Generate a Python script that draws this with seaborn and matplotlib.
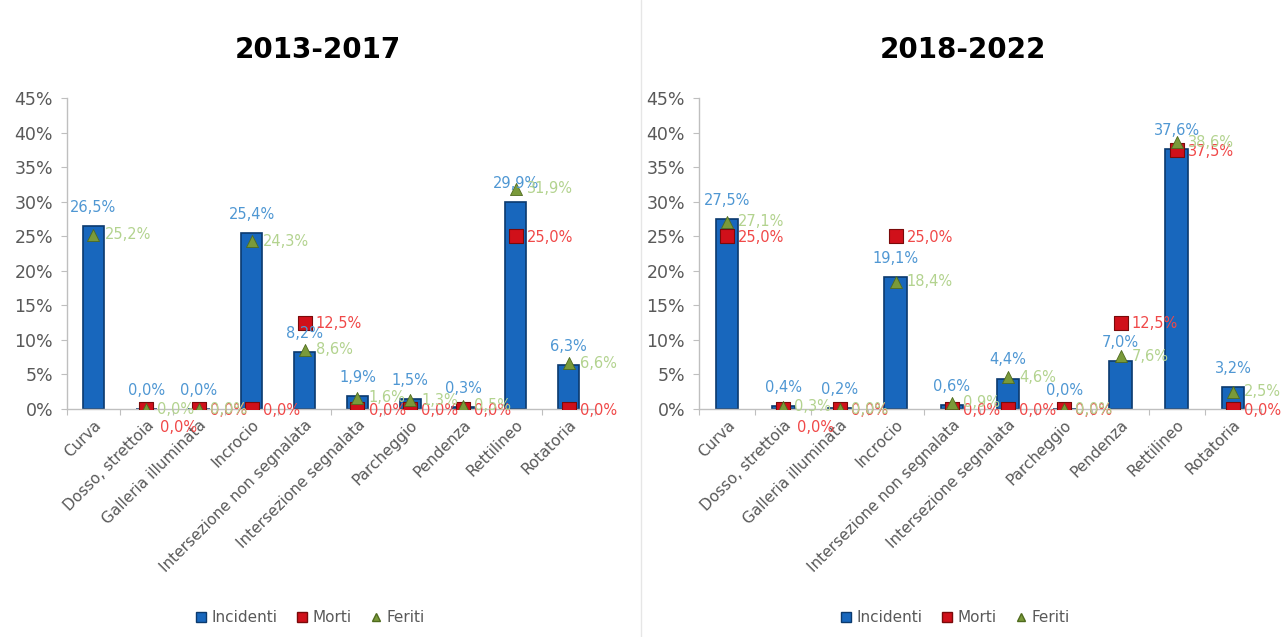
import matplotlib
matplotlib.use("Agg")
import matplotlib.pyplot as plt
from matplotlib.lines import Line2D
from matplotlib.ticker import FixedLocator, PercentFormatter
import numpy as np
import pandas as pd
import seaborn as sns

# Road configuration categories
categories = ["Curva", "Dosso, strettoia", "Galleria illuminata", "Incrocio",
              "Intersezione non segnalata", "Intersezione segnalata",
              "Parcheggio", "Pendenza", "Rettilineo", "Rotatoria"]

periods = ["2013-2017", "2018-2022"]

# Shares (%) per period
incidenti_2013 = [26.5, 0.0, 0.0, 25.4, 8.2, 1.9, 1.5, 0.3, 29.9, 6.3]
morti_2013 = [62.5, 0.0, 0.0, 0.0, 12.5, 0.0, 0.0, 0.0, 25.0, 0.0]
feriti_2013 = [25.2, 0.0, 0.0, 24.3, 8.6, 1.6, 1.3, 0.5, 31.9, 6.6]

incidenti_2018 = [27.5, 0.4, 0.2, 19.1, 0.6, 4.4, 0.0, 7.0, 37.6, 3.2]
morti_2018 = [25.0, 0.0, 0.0, 25.0, 0.0, 0.0, 0.0, 12.5, 37.5, 0.0]
feriti_2018 = [27.1, 0.3, 0.0, 18.4, 0.9, 4.6, 0.0, 7.6, 38.6, 2.5]

series_names = ["Incidenti", "Morti", "Feriti"]
y_ticks = [0, 5, 10, 15, 20, 25, 30, 35, 40, 45]

# Label placement of the Morti values ("r" = right, "b" = below)
morti_label_side = ["r", "b", "r", "r", "r", "r", "r", "r", "r", "r"]

BAR_BLUE = "#1867bd"
BAR_EDGE = "#0b3a6e"
RED = "#d0101a"
GREEN = "#7a9a3a"
LBL_BLUE = "#4f97d3"
LBL_RED = "#f04848"
LBL_GREEN = "#b3d38f"
GRAY_TXT = "#595959"
AXIS_GRAY = "#bfbfbf"

sns.set_theme(style="white")
plt.rcParams["font.family"] = ["DejaVu Sans"]


def fmt(v):
    return f"{v:.1f}".replace(".", ",") + "%"


def build_frame(inc, mor, fer):
    return pd.DataFrame({
        "categoria": categories,
        "Incidenti": inc,
        "Morti": mor,
        "Feriti": fer,
    })


frames = [build_frame(incidenti_2013, morti_2013, feriti_2013),
          build_frame(incidenti_2018, morti_2018, feriti_2018)]

fig = plt.figure(figsize=(12.87, 6.37), dpi=100)
ax_rects = [[67 / 1287, 1 - 409 / 637, 528 / 1287, 311 / 637],
            [699 / 1287, 1 - 409 / 637, 562 / 1287, 311 / 637]]
legend_centres = [(310 / 1287, 1 - 618 / 637), (955 / 1287, 1 - 618 / 637)]
title_centres = [(318 / 1287, 1 - 50 / 637), (963 / 1287, 1 - 50 / 637)]

for df, rect, period, lc, tc in zip(frames, ax_rects, periods, legend_centres, title_centres):
    ax = fig.add_axes(rect)
    n = len(df)
    sns.barplot(data=df, x="categoria", y="Incidenti", order=categories,
                color=BAR_BLUE, edgecolor=BAR_EDGE, linewidth=1.2,
                width=0.4, saturation=1, ax=ax, zorder=2)
    xs = np.arange(n)
    # Morti: red squares, Feriti: green triangles
    sns.scatterplot(x=xs, y=df["Morti"], marker="s", s=110, color=RED,
                    edgecolor="#7a0a0a", linewidth=0.8, ax=ax, zorder=4,
                    legend=False)
    sns.scatterplot(x=xs, y=df["Feriti"], marker="^", s=75, color=GREEN,
                    edgecolor="#4f6b1e", linewidth=0.6, ax=ax, zorder=5,
                    legend=False)

    ax.set_ylim(0, 45)
    ax.set_xlim(-0.5, n - 0.5)
    ymax = ax.get_ylim()[1]

    # value labels
    for i, (vi, vm, vf) in enumerate(zip(df["Incidenti"], df["Morti"], df["Feriti"])):
        ax.annotate(fmt(vi), (i, vi), xytext=(0, 8), textcoords="offset points",
                    ha="center", va="bottom", color=LBL_BLUE, fontsize=10.5, zorder=6)
        if vm <= ymax:
            if morti_label_side[i] == "b":
                ax.annotate(fmt(vm), (i, vm), xytext=(10, -8), textcoords="offset points",
                            ha="left", va="top", color=LBL_RED, fontsize=10.5, zorder=6)
            else:
                ax.annotate(fmt(vm), (i, vm), xytext=(8, -1), textcoords="offset points",
                            ha="left", va="center", color=LBL_RED, fontsize=10.5, zorder=6)
        if vf <= ymax:
            ax.annotate(fmt(vf), (i, vf), xytext=(8, 0), textcoords="offset points",
                        ha="left", va="center", color=LBL_GREEN, fontsize=10.5, zorder=6)

    ax.set_xlabel("")
    ax.set_ylabel("")
    ax.yaxis.set_major_locator(FixedLocator(y_ticks))
    ax.yaxis.set_major_formatter(PercentFormatter(decimals=0))
    ax.tick_params(axis="y", labelsize=12.5, length=4, width=0.8,
                   direction="out", left=True, pad=6,
                   colors=AXIS_GRAY, labelcolor=GRAY_TXT)
    ax.set_xticks(xs)
    ax.set_xticklabels(categories, rotation=45, ha="right",
                       rotation_mode="anchor", fontsize=11, color=GRAY_TXT)
    ax.tick_params(axis="x", length=0, pad=6)
    ax.set_xticks(np.arange(n + 1) - 0.5, minor=True)
    ax.tick_params(axis="x", which="minor", length=4, width=0.8,
                   color=AXIS_GRAY, direction="out", bottom=True)
    for side in ["top", "right"]:
        ax.spines[side].set_visible(False)
    for side in ["left", "bottom"]:
        ax.spines[side].set_color(AXIS_GRAY)
        ax.spines[side].set_linewidth(1.0)
    ax.grid(False)

    fig.text(tc[0], tc[1], period, ha="center", va="center",
             fontsize=20, fontweight="bold", color="black")

    handles = [
        Line2D([0], [0], marker="s", linestyle="none", markersize=7,
               markerfacecolor=BAR_BLUE, markeredgecolor=BAR_EDGE),
        Line2D([0], [0], marker="s", linestyle="none", markersize=7,
               markerfacecolor=RED, markeredgecolor="#7a0a0a"),
        Line2D([0], [0], marker="^", linestyle="none", markersize=6,
               markerfacecolor=GREEN, markeredgecolor="#4f6b1e"),
    ]
    fig.legend(handles, series_names, loc="center", bbox_to_anchor=lc, ncol=3,
               frameon=False, fontsize=11, handlelength=0.8, handletextpad=0.3,
               columnspacing=1.2, labelcolor=GRAY_TXT)

# separator between the two panels
fig.add_artist(Line2D([641 / 1287, 641 / 1287], [0, 1], color="#e6e6e6",
                      linewidth=1.0, transform=fig.transFigure))

fig.savefig("out.png", dpi=100, facecolor="white")
